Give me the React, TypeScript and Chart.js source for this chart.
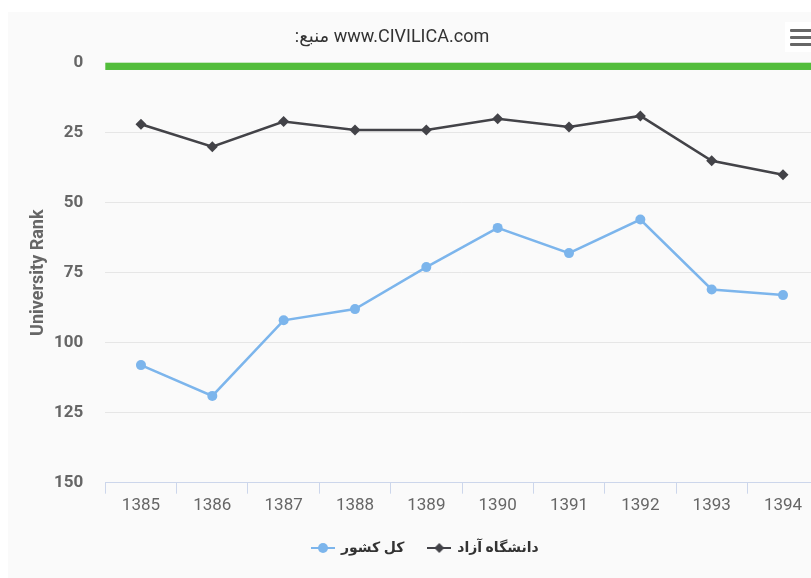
import React, { useEffect, useRef } from "react";
import { Chart, registerables } from "chart.js";

Chart.register(...registerables);

// ---- data ----
const years = ["1385", "1386", "1387", "1388", "1389", "1390", "1391", "1392", "1393", "1394"];
const countryRank = [108, 119, 92, 88, 73, 59, 68, 56, 81, 83];
const azadRank = [22, 30, 21, 24, 24, 20, 23, 19, 35, 40];
const yTicks = [0, 25, 50, 75, 100, 125, 150];
const seriesNames = ["کل کشور", "دانشگاه آزاد"];
const chartTitle = "منبع:\u200F www.CIVILICA.com";
const yAxisTitle = "University Rank";
const greenBand = [0, 2.6];

const BLUE = "#7cb5ec";
const DARK = "#434348";
const GREEN = "#52bd3b";

function legendSymbol(color: string, kind: "circle" | "diamond"): HTMLCanvasElement {
  const c = document.createElement("canvas");
  c.width = 24;
  c.height = 12;
  const g = c.getContext("2d")!;
  g.strokeStyle = color;
  g.lineWidth = 2;
  g.beginPath();
  g.moveTo(0, 6);
  g.lineTo(24, 6);
  g.stroke();
  g.fillStyle = color;
  g.beginPath();
  if (kind === "circle") {
    g.arc(12, 6, 5, 0, Math.PI * 2);
  } else {
    g.moveTo(12, 1);
    g.lineTo(17, 6);
    g.lineTo(12, 11);
    g.lineTo(7, 6);
    g.closePath();
  }
  g.fill();
  return c;
}

const greenBandPlugin = {
  id: "greenBand",
  beforeDatasetsDraw(chart: any) {
    const { ctx, chartArea, scales } = chart;
    const y = scales.y;
    const y0 = y.getPixelForValue(greenBand[0]);
    const y1 = y.getPixelForValue(greenBand[1]);
    ctx.save();
    ctx.fillStyle = GREEN;
    ctx.fillRect(chartArea.left, Math.min(y0, y1), chartArea.right - chartArea.left, Math.abs(y1 - y0));
    ctx.restore();
  },
};

// shift legend row to compensate for Chart.js' trailing item padding
const legendShiftPlugin = {
  id: "legendShift",
  afterLayout(chart: any) {
    const lg = chart.legend;
    if (lg) {
      lg.left += 12;
      lg.right += 12;
    }
  },
};

export default function App() {
  const canvasRef = useRef<HTMLCanvasElement | null>(null);

  useEffect(() => {
    const canvas = canvasRef.current;
    if (!canvas) return;
    const symbols = [legendSymbol(BLUE, "circle"), legendSymbol(DARK, "diamond")];
    const chart = new Chart(canvas, {
      type: "line",
      data: {
        labels: years,
        datasets: [
          {
            label: seriesNames[0],
            data: countryRank,
            borderColor: BLUE,
            backgroundColor: BLUE,
            borderWidth: 2.5,
            pointStyle: "circle",
            pointRadius: 5,
            pointBorderWidth: 0,
            tension: 0,
          },
          {
            label: seriesNames[1],
            data: azadRank,
            borderColor: DARK,
            backgroundColor: DARK,
            borderWidth: 2.5,
            pointStyle: "rectRot",
            pointRadius: 5.5,
            pointBorderWidth: 0,
            tension: 0,
          },
        ],
      },
      options: {
        responsive: false,
        animation: false,
        devicePixelRatio: 1,
        layout: { padding: { top: 50.7, left: 0, right: 19.3, bottom: 13 } },
        plugins: {
          title: { display: false },
          tooltip: { enabled: false },
          legend: {
            position: "bottom",
            labels: {
              usePointStyle: true,
              pointStyleWidth: 22,
              padding: 24,
              color: "#333333",
              font: { family: "Roboto, 'DejaVu Sans', sans-serif", size: 14, weight: "bold" },
              generateLabels: (ch: any) =>
                ch.data.datasets.map((ds: any, i: number) => ({
                  text: ds.label,
                  pointStyle: symbols[i],
                  fillStyle: ds.borderColor,
                  strokeStyle: ds.borderColor,
                  lineWidth: 0,
                  fontColor: "#333333",
                  hidden: false,
                  datasetIndex: i,
                })),
            },
          },
        },
        scales: {
          x: {
            type: "category",
            offset: true,
            grid: {
              offset: true,
              drawOnChartArea: false,
              drawTicks: true,
              tickLength: 11,
              color: "#ccd6eb",
            },
            border: { display: true, color: "#ccd6eb", width: 1 },
            ticks: {
              color: "#666666",
              font: { family: "Roboto, sans-serif", size: 17 },
              padding: 2,
              maxRotation: 0,
              autoSkip: false,
            },
            afterFit: (scale: any) => {
              scale.height = 34.3;
            },
          },
          y: {
            type: "linear",
            reverse: true,
            min: yTicks[0],
            max: yTicks[yTicks.length - 1],
            afterBuildTicks: (scale: any) => {
              scale.ticks = yTicks.map((v) => ({ value: v }));
            },
            border: { display: false },
            grid: {
              drawTicks: false,
              color: (c: any) =>
                c.tick && (c.tick.value === yTicks[0] || c.tick.value === yTicks[yTicks.length - 1])
                  ? "rgba(0,0,0,0)"
                  : "#e6e6e6",
              lineWidth: 1,
            },
            ticks: {
              color: "#666666",
              font: { family: "Roboto, sans-serif", size: 17, weight: "bold" },
              padding: 22,
            },
            title: {
              display: true,
              text: yAxisTitle,
              color: "#666666",
              font: { family: "Roboto, sans-serif", size: 18, weight: "bold" },
              padding: { top: 20, bottom: 0 },
            },
            afterFit: (scale: any) => {
              scale.width = 97.3;
            },
          },
        },
      },
      plugins: [greenBandPlugin, legendShiftPlugin],
    });
    return () => chart.destroy();
  }, []);

  return (
    <div style={{ position: "fixed", inset: 0, overflow: "hidden", background: "#ffffff" }}>
      <div
        style={{
          position: "absolute",
          left: 8,
          top: 12,
          width: 830,
          height: 566,
          background: "#fafafa",
        }}
      >
        <canvas
          ref={canvasRef}
          width={830}
          height={566}
          style={{ position: "absolute", left: 0, top: 0, width: 830, height: 566 }}
        />
        <div
          style={{
            position: "absolute",
            left: 0,
            top: 13,
            width: 768,
            height: 22,
            lineHeight: "22px",
            textAlign: "center",
            fontFamily: "Roboto, 'DejaVu Sans', sans-serif",
            fontSize: 18,
            color: "#333333",
            whiteSpace: "nowrap",
          }}
        >
          {chartTitle}
        </div>
        <div
          style={{
            position: "absolute",
            left: 777,
            top: 10,
            width: 40,
            height: 30,
            background: "#ffffff",
          }}
        >
          {[7, 14, 21].map((t) => (
            <div
              key={t}
              style={{
                position: "absolute",
                left: 5,
                top: t,
                width: 24,
                height: 3,
                borderRadius: 1,
                background: "#666666",
              }}
            />
          ))}
        </div>
      </div>
    </div>
  );
}
